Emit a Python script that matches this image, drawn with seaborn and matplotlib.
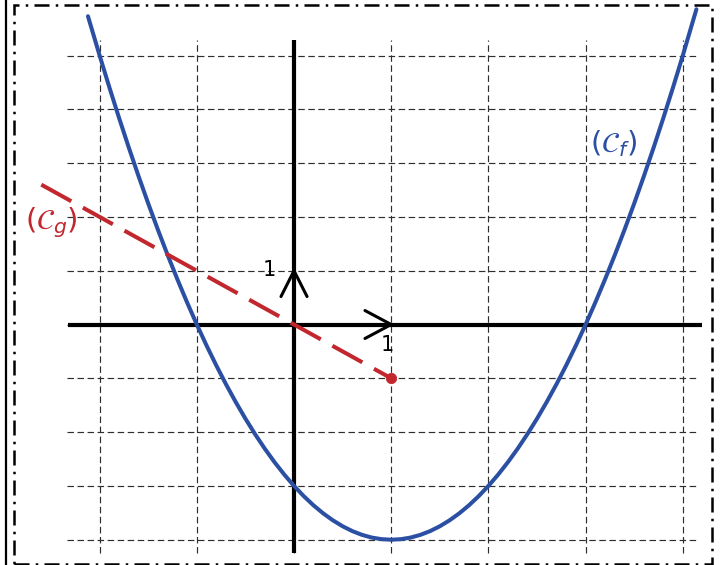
import numpy as np
import pandas as pd
import seaborn as sns
import matplotlib.pyplot as plt
from matplotlib.patches import Rectangle
from matplotlib.lines import Line2D

# courbe (Cf) : points
cf_x = [-2.12, -2.0, -1.9, -1.8, -1.7, -1.6, -1.5, -1.4, -1.3, -1.2, -1.1, -1.0,
        -0.9, -0.8, -0.7, -0.6, -0.5, -0.4, -0.3, -0.2, -0.1, 0.0,
        0.1, 0.2, 0.3, 0.4, 0.5, 0.6, 0.7, 0.8, 0.9, 1.0,
        1.1, 1.2, 1.3, 1.4, 1.5, 1.6, 1.7, 1.8, 1.9, 2.0,
        2.1, 2.2, 2.3, 2.4, 2.5, 2.6, 2.7, 2.8, 2.9, 3.0,
        3.1, 3.2, 3.3, 3.4, 3.5, 3.6, 3.7, 3.8, 3.9, 4.0, 4.14]
cf_y = [5.73, 5.0, 4.41, 3.84, 3.29, 2.76, 2.25, 1.76, 1.29, 0.84, 0.41, 0.0,
        -0.39, -0.76, -1.11, -1.44, -1.75, -2.04, -2.31, -2.56, -2.79, -3.0,
        -3.19, -3.36, -3.51, -3.64, -3.75, -3.84, -3.91, -3.96, -3.99, -4.0,
        -3.99, -3.96, -3.91, -3.84, -3.75, -3.64, -3.51, -3.36, -3.19, -3.0,
        -2.79, -2.56, -2.31, -2.04, -1.75, -1.44, -1.11, -0.76, -0.39, 0.0,
        0.41, 0.84, 1.29, 1.76, 2.25, 2.76, 3.29, 3.84, 4.41, 5.0, 5.86]

# demi-droite (Cg)
cg_x = [-2.6, 1.0]
cg_y = [2.6, -1.0]

grid_x = [-2, -1, 0, 1, 2, 3, 4]
grid_y = [-4, -3, -2, -1, 0, 1, 2, 3, 4, 5]

blue = '#2b4fa3'
red = '#c1272d'

sns.set_style('white')
fig = plt.figure(figsize=(7.21, 5.65), dpi=100)
ax = fig.add_axes([0, 0, 1, 1])
ax.set_xlim(-3.025, 4.393)
ax.set_ylim(-4.47, 6.032)
ax.axis('off')

# quadrillage
grid_kw = dict(color='#2e2e2e', lw=0.85, linestyle=(0, (5.5, 3)), zorder=1)
for gy in grid_y:
    ax.plot([-2.34, 4.16], [gy, gy], **grid_kw)
for gx in grid_x:
    ax.plot([gx, gx], [-4.25, 5.29], **grid_kw)

# axes du repère
ax.plot([-2.33, 4.2], [0, 0], color='black', lw=3, zorder=2, solid_capstyle='butt')
ax.plot([0, 0], [-4.25, 5.29], color='black', lw=3, zorder=2, solid_capstyle='butt')
ax.plot([1 - 0.27, 1, 1 - 0.27], [0.26, 0, -0.26], color='black', lw=2.2, zorder=3)
ax.plot([-0.134, 0, 0.134], [0.52, 1, 0.52], color='black', lw=2.2, zorder=3)
ax.text(0.96, -0.2, '1', fontsize=15, color='black', ha='center', va='top', zorder=4)
ax.text(-0.25, 1.02, '1', fontsize=15, color='black', ha='center', va='center', zorder=4)

# courbes
df_f = pd.DataFrame({'x': cf_x, 'y': cf_y})
sns.lineplot(data=df_f, x='x', y='y', sort=False, estimator=None, color=blue,
             lw=2.9, ax=ax, zorder=5, solid_capstyle='round')

df_g = pd.DataFrame({'x': cg_x, 'y': cg_y})
sns.lineplot(data=df_g, x='x', y='y', sort=False, estimator=None, color=red,
             lw=2.9, ax=ax, zorder=5)
ax.lines[-1].set_dashes((8.5, 3.3))
sns.scatterplot(x=[cg_x[-1]], y=[cg_y[-1]], color=red, s=55, edgecolor=red,
                ax=ax, zorder=6)

ax.text(3.29, 3.37, r'$(\mathcal{C}_f)$', color=blue, fontsize=21, ha='center', va='center')
ax.text(-2.5, 1.9, r'$(\mathcal{C}_g)$', color=red, fontsize=21, ha='center', va='center')
ax.set_xlabel('')
ax.set_ylabel('')

# cadre
fig.patches.append(Rectangle((14 / 721, 1 - 564 / 565), 698 / 721, 559 / 565,
                             transform=fig.transFigure, fill=False, ec='black',
                             lw=1.8, linestyle=(0, (6, 2.5, 1, 2.5))))
fig.lines.append(Line2D([6 / 721, 6 / 721], [0, 1], transform=fig.transFigure,
                        color='black', lw=1.6))

plt.savefig('out.png', dpi=100)
